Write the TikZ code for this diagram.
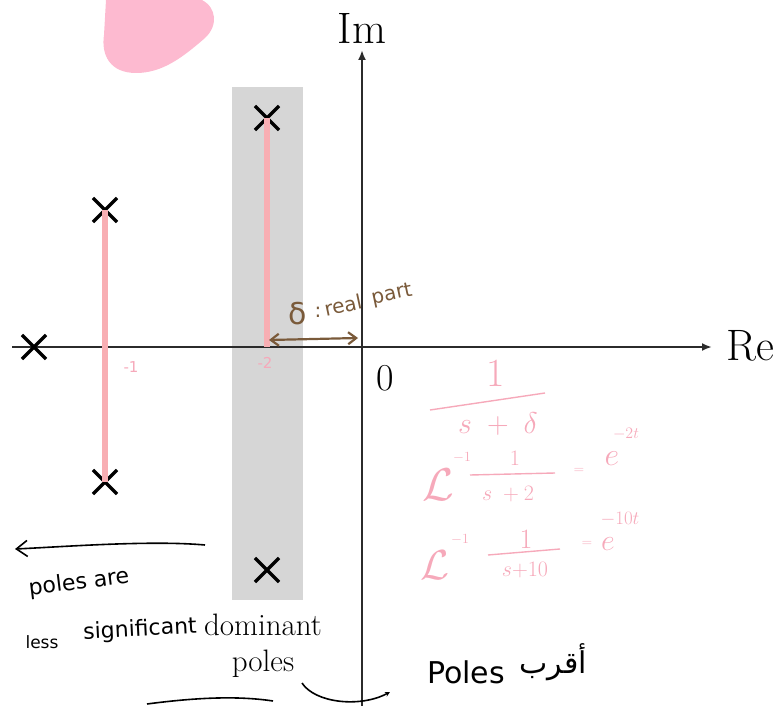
\RequirePackage{fix-cm}
\documentclass[tikz,border=0pt]{standalone}
\usepackage{fontspec}
\usetikzlibrary{arrows.meta,shapes.misc}
\newfontfamily\handfont{DejaVu Sans}
\newfontfamily\arabicfont[Script=Arabic]{DejaVu Sans}
\TeXXeTstate=1
\definecolor{axisgray}{HTML}{2B2B2B}
\definecolor{bandgray}{HTML}{D6D6D6}
\definecolor{polepink}{HTML}{F8AEB3}
\definecolor{inkpink}{HTML}{F6A9BA}
\definecolor{inkbrown}{HTML}{7A5A3A}
\definecolor{blobpink}{HTML}{FDBAD0}
\newcommand{\fsz}[1]{\fontsize{#1}{#1}\selectfont}
\begin{document}
\begin{tikzpicture}[x=1pt,y=-1pt,
  axis/.style={draw=axisgray, line width=2pt, -{Latex[length=10pt,width=8pt]}},
  pole/.style={draw=black, cross out, line width=3.2pt, minimum size=21pt, inner sep=0pt},
  polestem/.style={draw=polepink, line width=6pt},
  axislabel/.style={inner sep=0pt, font=\fsz{44}},
  pinkink/.style={text=inkpink, inner sep=0pt},
  pinkline/.style={draw=inkpink, line width=1.4pt},
  handblack/.style={draw=black, line width=1.6pt},
  handtext/.style={inner sep=0pt, font=\handfont},
  browntext/.style={inner sep=0pt, text=inkbrown, font=\handfont\fsz{20}}]
\useasboundingbox (0,0) rectangle (782,706);
% pink blob
\fill[blobpink] (106,0) -- (202,0) .. controls (217,8) and (218,26) .. (205,38)
  .. controls (182,58) and (162,73) .. (136,73) .. controls (110,73) and (101,55) .. (104,35) -- cycle;
% dominant band
\fill[bandgray] (232,87) rectangle (303,600);
% axes
\coordinate (O) at (362,347);
\coordinate (reS) at (12,347);
\coordinate (reE) at (712,347);
\coordinate (imS) at (362,706);
\coordinate (imE) at (362,50);
\draw[axis] (reS) -- (reE);
\draw[axis] (imS) -- (imE);
\node[axislabel] (im) at (362,28) {Im};
\node[axislabel, anchor=west] (re) at (726,346) {Re};
\node[inner sep=0pt, font=\fsz{38}] (zero) at (385,378) {0};
% poles
\node[pole] (p0) at (34,347) {};
\node[pole] (p1) at (105,210) {};
\node[pole] (p2) at (105,482) {};
\node[pole] (p3) at (267,118) {};
\node[pole] (p4) at (267,570) {};
\coordinate (a2) at (267,347);
\draw[polestem] (p1.center) -- (p2.center);
\draw[polestem] (p3.center) -- (a2);
\node[pinkink, font=\handfont\fsz{15}] (m1) at (131,367) {-1};
\node[pinkink, font=\handfont\fsz{15}] (m2) at (265,363) {-2};
% delta annotation
\coordinate (d1) at (269,340);
\coordinate (d2) at (358,338);
\draw[draw=inkbrown, line width=2.2pt, {Straight Barb[length=8pt,width=12pt]}-{Straight Barb[length=8pt,width=12pt]}] (d1) -- (d2);
\node[browntext, font=\handfont\fsz{30}] (dsym) at (298,314) {δ};
\node[browntext] (dcol) at (318,312) {:};
\node[browntext, rotate=12] (dreal) at (343,305) {real};
\node[browntext, rotate=12] (dpart) at (392,295) {part};
% pink formulas
\node[pinkink, font=\fsz{40}] (n1) at (496,373) {1};
\coordinate (b1l) at (430,410);
\coordinate (b1r) at (545,393);
\draw[pinkline] (b1l) -- (b1r);
\node[pinkink, font=\fsz{30}] (d1t) at (498,424) {$s\;+\;\delta$};
\node[pinkink, font=\fsz{46}] (L2) at (438,485) {$\mathcal{L}$};
\node[pinkink, font=\fsz{14}] (L2s) at (462,458) {$-1$};
\node[pinkink, font=\fsz{22}] (n2) at (515,458) {1};
\coordinate (b2l) at (470,475);
\coordinate (b2r) at (555,473);
\draw[pinkline] (b2l) -- (b2r);
\node[pinkink, font=\fsz{22}] (d2t) at (508,494) {$s\;+2$};
\node[pinkink, font=\fsz{14}] (eq2) at (579,471) {$=$};
\node[pinkink, font=\fsz{32}] (e2) at (612,459) {$e$};
\node[pinkink, font=\fsz{16}] (x2) at (626,434) {$-2t$};
\node[pinkink, font=\fsz{42}] (L3) at (435,565) {$\mathcal{L}$};
\node[pinkink, font=\fsz{14}] (L3s) at (460,540) {$-1$};
\node[pinkink, font=\fsz{28}] (n3) at (526,539) {1};
\coordinate (b3l) at (488,555);
\coordinate (b3r) at (560,549);
\draw[pinkline] (b3l) -- (b3r);
\node[pinkink, font=\fsz{22}] (d3t) at (525,570) {$s{+}10$};
\node[pinkink, font=\fsz{14}] (eq3) at (587,544) {$=$};
\node[pinkink, font=\fsz{30}] (e3) at (608,544) {$e$};
\node[pinkink, font=\fsz{19}] (x3) at (620,519) {$-10t$};
% black annotations
\coordinate (la1) at (205,545);
\coordinate (la2) at (15,549);
\draw[handblack, -{Straight Barb[length=11pt,width=16pt]}] (la1) .. controls (150,540) and (60,547) .. (la2);
\node[handtext, font=\handfont\fsz{22}, rotate=7] (pa) at (79,583) {poles are};
\node[handtext, font=\handfont\fsz{17}] (ls) at (42,642) {less};
\node[handtext, font=\handfont\fsz{22}, rotate=3] (sig) at (140,630) {significant};
\node[inner sep=0pt, align=center, font=\fontsize{31}{36}\selectfont] (dom) at (263,646) {dominant\\poles};
\coordinate (bl1) at (147,704);
\coordinate (bl2) at (273,701);
\draw[handblack] (bl1) .. controls (200,697) and (240,696) .. (bl2);
\coordinate (ca1) at (302,683);
\coordinate (ca2) at (390,692);
\draw[handblack, -{Stealth[length=5pt,width=5pt]}] (ca1) .. controls (315,703) and (360,708) .. (ca2);
\node[handtext, font=\handfont\fsz{30}] (pl) at (466,672) {Poles};
\node[handtext, font=\arabicfont\fsz{30}] (ar) at (553,662) {\beginR أقرب\endR};
\end{tikzpicture}
\end{document}
